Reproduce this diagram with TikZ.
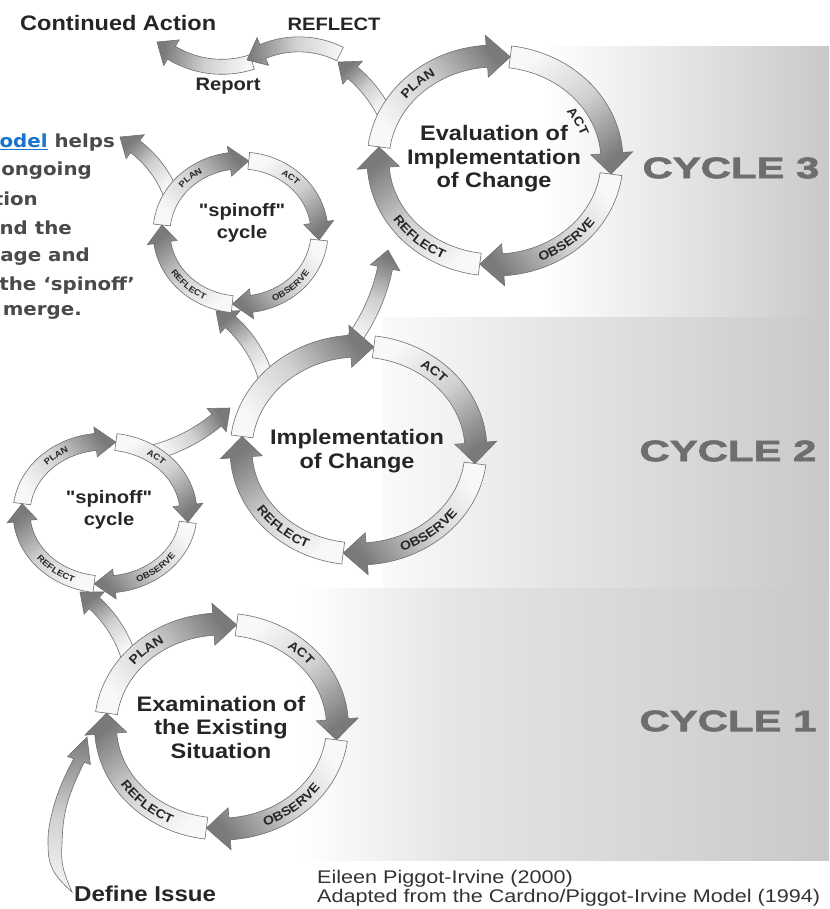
\documentclass[tikz,border=0pt]{standalone}
\usepackage{fontspec}
\setmainfont{Liberation Sans}
\newfontfamily\dfont{Liberation Sans}[FakeStretch=1.12]
\newfontfamily\cfont{Liberation Sans}[FakeStretch=1.42,FakeBold=2.3]
\newfontfamily\pfont{DejaVu Sans}[FakeStretch=1.1]
\newfontfamily\rfont{Liberation Sans}[FakeStretch=1.18]
\usetikzlibrary{decorations.text}

\definecolor{txt}{HTML}{262626}
\definecolor{cyc}{HTML}{6E6E6E}
\definecolor{para}{HTML}{4A4A4A}
\definecolor{link}{HTML}{1874CD}
\definecolor{segline}{HTML}{6E6E6E}
\definecolor{segtail}{HTML}{F8F8F8}
\definecolor{segmid}{HTML}{D0D0D0}
\definecolor{seghead}{HTML}{7A7A7A}
\definecolor{bandgray}{HTML}{C9C9C9}
\definecolor{bandlight}{HTML}{FAFAFA}
\definecolor{bandmid}{HTML}{E4E4E4}

\pgfdeclarehorizontalshading{bandthree}{100bp}{color(0bp)=(white); color(25bp)=(white); color(39bp)=(white); color(75bp)=(bandgray); color(100bp)=(bandgray)}
\pgfdeclarehorizontalshading{bandtwo}{100bp}{color(0bp)=(bandlight); color(25bp)=(bandlight); color(45bp)=(bandmid); color(75bp)=(bandgray); color(100bp)=(bandgray)}
\pgfdeclarehorizontalshading{bandone}{100bp}{color(0bp)=(white); color(25bp)=(white); color(40bp)=(bandmid); color(75bp)=(bandgray); color(100bp)=(bandgray)}

\newcommand\labA{\dfont\bfseries\fontsize{12.5}{12.5}\selectfont}
\newcommand\labB{\dfont\bfseries\fontsize{8.5}{8.5}\selectfont}

% curved arrow along an ellipse: cx, cy (pixels, y down), rx, ry, start, end, band half, head half, head length (deg)
\newcommand\arcarrow[9]{%
 \pgfmathsetmacro\Asg{2*((#5)>(#6))-1}%
 \pgfmathsetmacro\Ahb{(#6)+(\Asg)*(#9)}%
 \pgfmathsetmacro\Ash{((#5)+(#6))/2-90*(\Asg)-90}%
 \pgfmathsetmacro\Arxo{(#3)+(#7)}\pgfmathsetmacro\Aryo{(#4)+(#7)}%
 \pgfmathsetmacro\Arxi{(#3)-(#7)}\pgfmathsetmacro\Aryi{(#4)-(#7)}%
 \pgfmathsetmacro\Arxh{(#3)+(#8)}\pgfmathsetmacro\Aryh{(#4)+(#8)}%
 \pgfmathsetmacro\Arxj{(#3)-(#8)}\pgfmathsetmacro\Aryj{(#4)-(#8)}%
 \pgfmathsetmacro\Ast{#5}\pgfmathsetmacro\Aen{#6}%
 \begin{scope}[shift={(#1,-(#2))}]
 \path[seg, shading angle=\Ash] (\Ast:{\Arxo} and {\Aryo})
   arc[start angle=\Ast, end angle=\Ahb, x radius=\Arxo, y radius=\Aryo]
   -- (\Ahb:{\Arxh} and {\Aryh}) -- (\Aen:{#3} and {#4})
   -- (\Ahb:{\Arxj} and {\Aryj}) -- (\Ahb:{\Arxi} and {\Aryi})
   arc[start angle=\Ahb, end angle=\Ast, x radius=\Arxi, y radius=\Aryi] -- cycle;
 \end{scope}}

% one cycle of four arrows: cx, cy, rx, ry, rotation, band half, head half, head length
\newcommand\cyc[8]{%
 \arcarrow{#1}{#2}{#3}{#4}{180-#5}{90-#5}{#6}{#7}{#8}%
 \arcarrow{#1}{#2}{#3}{#4}{90-#5}{-#5}{#6}{#7}{#8}%
 \arcarrow{#1}{#2}{#3}{#4}{-#5}{-90-#5}{#6}{#7}{#8}%
 \arcarrow{#1}{#2}{#3}{#4}{270-#5}{180-#5}{#6}{#7}{#8}}

% connector arrow: tail x,y ; tip x,y (pixels) ; turning angle
\newcommand\conn[5]{%
 \pgfmathsetmacro\Kdx{(#3)-(#1)}\pgfmathsetmacro\Kdy{(#2)-(#4)}%
 \pgfmathsetmacro\Kc{veclen(\Kdx,\Kdy)}%
 \pgfmathsetmacro\Kg{atan2(\Kdy,\Kdx)}%
 \pgfmathsetmacro\Ksg{2*((#5)>0)-1}%
 \pgfmathsetmacro\KR{\Kc/(2*sin(abs(#5)/2))}%
 \pgfmathsetmacro\Ka{\Kg-(#5)/2-90*(\Ksg)}%
 \pgfmathsetmacro\Kb{\Ka+(#5)}%
 \pgfmathsetmacro\Kcx{(#1)-\KR*cos(\Ka)}%
 \pgfmathsetmacro\Kcy{(#2)+\KR*sin(\Ka)}%
 \pgfmathsetmacro\Khl{18/\KR*180/pi}%
 \arcarrow{\Kcx}{\Kcy}{\KR}{\KR}{\Ka}{\Kb}{7.5}{15}{\Khl}}

% text along an arc: cx, cy, rx, ry, centre angle, text, half height
\newcommand\arctext[7]{%
 \pgfmathsetmacro\Ts{2*(sin(#5)>=0)-1}%
 \pgfmathsetmacro\Tsa{(#5)+35*(\Ts)}%
 \pgfmathsetmacro\Tea{(#5)-35*(\Ts)}%
 \pgfmathsetmacro\Trx{(#3)-(\Ts)*(#7)}%
 \pgfmathsetmacro\Try{(#4)-(\Ts)*(#7)}%
 \begin{scope}[shift={(#1,-(#2))}]
 \path[decorate, decoration={text along path, text={#6}, text align=center, text color=txt}]
   (\Tsa:{\Trx} and {\Try}) arc[start angle=\Tsa, end angle=\Tea, x radius=\Trx, y radius=\Try];
 \end{scope}}

\tikzset{
 seg/.style={draw=segline, line width=0.6pt, bottom color=segtail, top color=seghead, middle color=segmid},
 lab/.style={inner sep=0pt, text=txt},
 ctitle/.style={lab, font=\dfont\bfseries\fontsize{21}{23.5}\selectfont, align=center},
 spin/.style={lab, font=\dfont\bfseries\fontsize{18}{22}\selectfont, align=center},
 cyclab/.style={inner sep=0pt, text=cyc, font=\cfont\bfseries\fontsize{29.5}{30}\selectfont},
 paraline/.style={inner sep=0pt, anchor=east, text=para, font=\pfont\bfseries\fontsize{18}{20}\selectfont},
}

\begin{document}
\begin{tikzpicture}[x=1pt,y=1pt]
\useasboundingbox (0,0) rectangle (829,-909);
\fill[white] (0,0) rectangle (829,-909);

% background bands
\path[shade, shading=bandthree] (430,-47) rectangle (829,-317);
\path[shade, shading=bandtwo] (383,-317) rectangle (829,-588);
\path[shade, shading=bandone] (300,-588) rectangle (829,-860);

% connectors
\conn{252}{62}{157}{42}{-60}
\conn{340}{54}{247}{60}{60}
\conn{384}{112}{338}{62}{30}
\conn{170}{192}{120}{137}{40}
\conn{352}{342}{388}{250}{30}
\conn{266}{378}{216}{311}{40}
\conn{155}{452}{230}{408}{30}
\conn{128}{655}{80}{592}{38}

% define issue arrow
\path[seg] plot[smooth, tension=0.7] coordinates {(72,-892) (53,-870) (48,-843) (52,-813) (62,-783) (73.8,-758.7)}
  -- (67.6,-756.6) -- (87,-737) -- (90.4,-764.4) -- (84.2,-762.3)
  -- plot[smooth, tension=0.7] coordinates {(84.2,-762.3) (73,-787) (65,-813) (62,-843) (63,-867) (72,-892)} -- cycle;

% cycles
\cyc{221.5}{726.5}{116}{102.5}{7.5}{11}{21}{11.5}
\cyc{358.5}{450}{117.5}{104}{7.5}{11}{21}{11.5}
\cyc{495}{160.5}{117}{104.5}{7.5}{11}{21}{11.5}
\cyc{105}{513}{83.5}{71.5}{7.5}{8.5}{15}{14}
\cyc{240.5}{232.5}{79}{72}{6}{8.5}{15}{14}

% arc labels
\arctext{495}{160.5}{117}{104.5}{133}{|\labA|PLAN}{4.5}
\arctext{495}{160.5}{95}{83}{27}{|\labA|ACT}{4.5}
\arctext{495}{160.5}{117}{104.5}{-50.4}{|\labA|OBSERVE}{4.5}
\arctext{495}{160.5}{117}{104.5}{-132}{|\labA|REFLECT}{4.5}

\arctext{358.5}{450}{117.5}{104}{48.4}{|\labA|ACT}{4.5}
\arctext{358.5}{450}{117.5}{104}{-51.5}{|\labA|OBSERVE}{4.5}
\arctext{358.5}{450}{117.5}{104}{-131.7}{|\labA|REFLECT}{4.5}

\arctext{221.5}{726.5}{116}{102.5}{132.2}{|\labA|PLAN}{4.5}
\arctext{221.5}{726.5}{116}{102.5}{45}{|\labA|ACT}{4.5}
\arctext{221.5}{726.5}{116}{102.5}{-51}{|\labA|OBSERVE}{4.5}
\arctext{221.5}{726.5}{116}{102.5}{-131.7}{|\labA|REFLECT}{4.5}

\arctext{240.5}{232.5}{79}{72}{130.8}{|\labB|PLAN}{3}
\arctext{240.5}{232.5}{79}{72}{49.3}{|\labB|ACT}{3}
\arctext{240.5}{232.5}{79}{72}{-48.7}{|\labB|OBSERVE}{3}
\arctext{240.5}{232.5}{79}{72}{-132.8}{|\labB|REFLECT}{3}

\arctext{105}{513}{83.5}{71.5}{127.8}{|\labB|PLAN}{3}
\arctext{105}{513}{83.5}{71.5}{50.4}{|\labB|ACT}{3}
\arctext{105}{513}{83.5}{71.5}{-50.5}{|\labB|OBSERVE}{3}
\arctext{105}{513}{83.5}{71.5}{-127.8}{|\labB|REFLECT}{3}

% cycle titles
\node[ctitle] (t3) at (494,-159) {Evaluation of\\Implementation\\of Change};
\node[ctitle] (t2) at (357,-451) {Implementation\\of Change};
\node[ctitle] (t1) at (221,-727) {Examination of\\the Existing\\Situation};
\node[spin] (ts3) at (242,-223) {"spinoff"\\cycle};
\node[spin] (ts2) at (109,-510) {"spinoff"\\cycle};

% cycle labels
\node[cyclab] (c3) at (731,-168) {CYCLE 3};
\node[cyclab] (c2) at (728,-451) {CYCLE 2};
\node[cyclab] (c1) at (728,-721) {CYCLE 1};

% top texts
\node[lab, anchor=west, font=\dfont\bfseries\fontsize{21}{23}\selectfont] (cont) at (20,-23) {Continued Action};
\node[lab, font=\dfont\bfseries\fontsize{18}{20}\selectfont] (refl) at (334,-24.5) {REFLECT};
\node[lab, font=\dfont\bfseries\fontsize{18}{20}\selectfont] (rep) at (228,-86) {Report};

% paragraph (clipped at the left edge)
\node[paraline] (p1) at (115,-143) {{\color{link}\underline{odel}} helps};
\node[paraline] (p2) at (92,-171) {ongoing};
\node[paraline] (p3) at (38,-199) {tion};
\node[paraline] (p4) at (72,-228) {nd the};
\node[paraline] (p5) at (90,-257) {age and};
\node[paraline] (p6) at (135,-286) {the ‘spinoff’};
\node[paraline] (p7) at (82,-312) {merge.};

% bottom texts
\node[lab, anchor=west, font=\dfont\bfseries\fontsize{21.5}{23}\selectfont] (def) at (74,-894) {Define Issue};
\node[inner sep=0pt, anchor=base west, text=black!80, font=\rfont\fontsize{18.3}{20}\selectfont] (cr1) at (317,-883) {Eileen Piggot-Irvine (2000)};
\node[inner sep=0pt, anchor=base west, text=black!80, font=\rfont\fontsize{18.3}{20}\selectfont] (cr2) at (317,-902) {Adapted from the Cardno/Piggot-Irvine Model (1994)};
\end{tikzpicture}
\end{document}
